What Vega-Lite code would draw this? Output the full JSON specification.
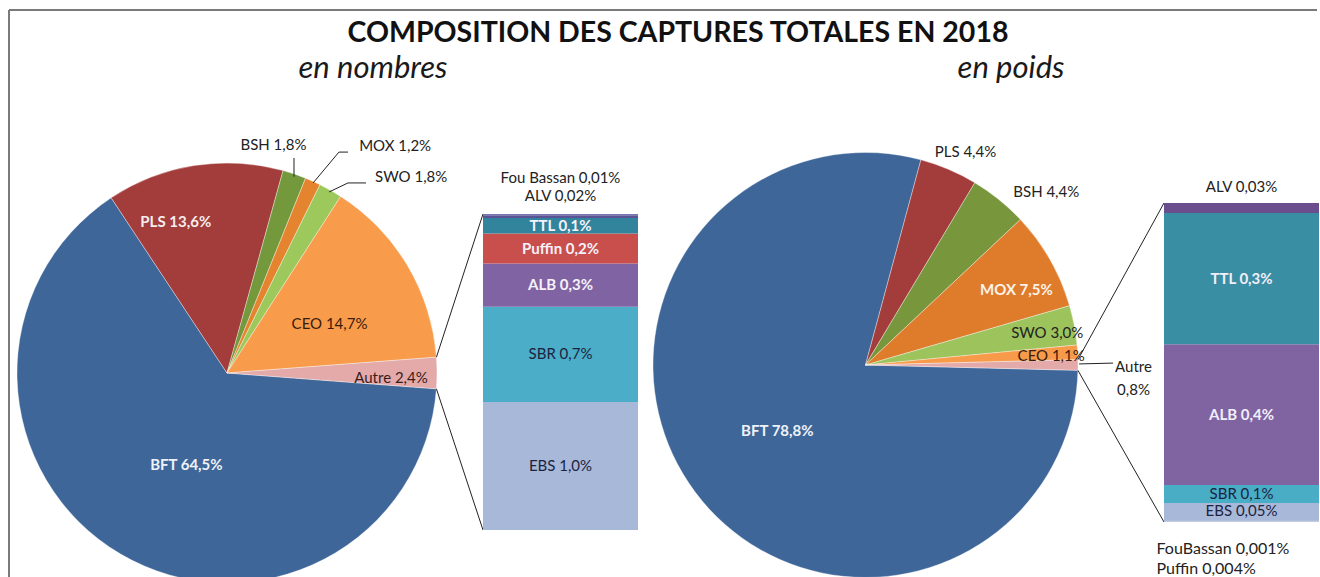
{
  "$schema": "https://vega.github.io/schema/vega-lite/v6.json",
  "padding": {"left": 7, "top": 9, "right": 0, "bottom": 0},
  "background": "#ffffff",
  "config": {"view": {"stroke": null}, "font": "Lato", "text": {"font": "Lato"}},
  "datasets": {
    "nombres": [
      {"sp": "BFT", "pct": 64.5, "i": 1, "label": "BFT 64,5%"},
      {"sp": "PLS", "pct": 13.6, "i": 2, "label": "PLS 13,6%"},
      {"sp": "BSH", "pct": 1.8, "i": 3, "label": "BSH 1,8%"},
      {"sp": "MOX", "pct": 1.2, "i": 4, "label": "MOX 1,2%"},
      {"sp": "SWO", "pct": 1.8, "i": 5, "label": "SWO 1,8%"},
      {"sp": "CEO", "pct": 14.7, "i": 6, "label": "CEO 14,7%"},
      {"sp": "Autre", "pct": 2.4, "i": 7, "label": "Autre 2,4%"}
    ],
    "poids": [
      {"sp": "BFT", "pct": 78.8, "i": 1, "label": "BFT 78,8%"},
      {"sp": "PLS", "pct": 4.4, "i": 2, "label": "PLS 4,4%"},
      {"sp": "BSH", "pct": 4.4, "i": 3, "label": "BSH 4,4%"},
      {"sp": "MOX", "pct": 7.5, "i": 4, "label": "MOX 7,5%"},
      {"sp": "SWO", "pct": 3.0, "i": 5, "label": "SWO 3,0%"},
      {"sp": "CEO", "pct": 1.1, "i": 6, "label": "CEO 1,1%"},
      {"sp": "Autre", "pct": 0.8, "i": 7, "label": "Autre\n0,8%"}
    ],
    "autreNombres": [
      {"sp": "EBS", "pct": 0.98, "i": 1, "label": "EBS 1,0%"},
      {"sp": "SBR", "pct": 0.73, "i": 2, "label": "SBR 0,7%"},
      {"sp": "ALB", "pct": 0.33, "i": 3, "label": "ALB 0,3%"},
      {"sp": "Puffin", "pct": 0.23, "i": 4, "label": "Puffin 0,2%"},
      {"sp": "TTL", "pct": 0.12, "i": 5, "label": "TTL 0,1%"},
      {"sp": "ALV", "pct": 0.02, "i": 6, "label": "ALV 0,02%"},
      {"sp": "Fou Bassan", "pct": 0.01, "i": 7, "label": "Fou Bassan  0,01%"}
    ],
    "autrePoids": [
      {"sp": "FouBassan", "pct": 0.001, "i": 1, "label": "FouBassan  0,001%"},
      {"sp": "Puffin", "pct": 0.004, "i": 2, "label": "Puffin 0,004%"},
      {"sp": "EBS", "pct": 0.043, "i": 3, "label": "EBS 0,05%"},
      {"sp": "SBR", "pct": 0.045, "i": 4, "label": "SBR 0,1%"},
      {"sp": "ALB", "pct": 0.354, "i": 5, "label": "ALB 0,4%"},
      {"sp": "TTL", "pct": 0.33, "i": 6, "label": "TTL 0,3%"},
      {"sp": "ALV", "pct": 0.025, "i": 7, "label": "ALV 0,03%"}
    ]
  },
  "bounds": "flush",
  "spacing": 0,
  "resolve": {"scale": {"color": "independent", "theta": "independent", "x": "independent", "y": "independent"}},
  "hconcat": [
    {
      "width": 420,
      "height": 420,
      "layer": [
        {
          "data": {"values": [{}]},
          "mark": {"type": "rule", "color": "#7a7a7a", "strokeWidth": 2},
          "encoding": {
            "x": {"datum": -1.0381, "type": "quantitative", "axis": null, "scale": {"domain": [-1, 1], "nice": false, "zero": false}},
            "y": {"datum": 1.72857, "type": "quantitative", "axis": null, "scale": {"domain": [-1, 1], "nice": false, "zero": false}},
            "x2": {"datum": 5.1905},
            "y2": {"datum": 1.72857}
          }
        },
        {
          "data": {"values": [{}]},
          "mark": {"type": "rule", "color": "#7a7a7a", "strokeWidth": 2},
          "encoding": {
            "x": {"datum": -1.0381, "type": "quantitative", "axis": null, "scale": {"domain": [-1, 1], "nice": false, "zero": false}},
            "y": {"datum": 1.72857, "type": "quantitative", "axis": null, "scale": {"domain": [-1, 1], "nice": false, "zero": false}},
            "x2": {"datum": -1.0381},
            "y2": {"datum": -0.99}
          }
        },
        {
          "data": {"name": "nombres"},
          "encoding": {
            "theta": {"field": "pct", "type": "quantitative", "stack": true, "scale": {"range": [1.6462, 7.9294]}},
            "order": {"field": "i", "type": "quantitative"},
            "detail": {"field": "sp", "type": "nominal"}
          },
          "layer": [
            {"mark": {"type": "arc", "outerRadius": 210, "stroke": "#ffffff", "strokeWidth": 0.6, "strokeOpacity": 0.6},
             "encoding": {"color": {"field": "sp", "type": "nominal", "legend": null,
               "scale": {"domain": ["BFT", "PLS", "BSH", "MOX", "SWO", "CEO", "Autre"], "range": ["#3e6699", "#a23d3b", "#74983c", "#e5842f", "#9dc85b", "#f89b4b", "#e3aaa9"]}}}},
            {"mark": {"type": "text", "radius": 100, "dx": 10, "dy": 6, "fontSize": 15, "fontWeight": "bold", "color": "#eef2f8"},
             "encoding": {"text": {"condition": {"test": "datum.sp === 'BFT'", "field": "label", "type": "nominal"}, "value": ""}}},
            {"mark": {"type": "text", "radius": 155, "dx": -27, "dy": 2, "fontSize": 15, "fontWeight": "bold", "color": "#f6ecec"},
             "encoding": {"text": {"condition": {"test": "datum.sp === 'PLS'", "field": "label", "type": "nominal"}, "value": ""}}},
            {"mark": {"type": "text", "radius": 117, "dx": 2, "dy": 11, "fontSize": 15, "color": "#3a1c0c"},
             "encoding": {"text": {"condition": {"test": "datum.sp === 'CEO'", "field": "label", "type": "nominal"}, "value": ""}}},
            {"mark": {"type": "text", "radius": 164, "dx": 0, "dy": 5, "fontSize": 15, "color": "#3a1c1c"},
             "encoding": {"text": {"condition": {"test": "datum.sp === 'Autre'", "field": "label", "type": "nominal"}, "value": ""}}},
            {"mark": {"type": "text", "radius": 232, "dx": -28, "dy": -8, "fontSize": 15, "color": "#222222"},
             "encoding": {"text": {"condition": {"test": "datum.sp === 'BSH'", "field": "label", "type": "nominal"}, "value": ""}}},
            {"mark": {"type": "text", "radius": 250, "dx": 66, "dy": 1, "fontSize": 15, "color": "#222222"},
             "encoding": {"text": {"condition": {"test": "datum.sp === 'MOX'", "field": "label", "type": "nominal"}, "value": ""}}},
            {"mark": {"type": "text", "radius": 250, "dx": 61, "dy": 22, "fontSize": 15, "color": "#222222"},
             "encoding": {"text": {"condition": {"test": "datum.sp === 'SWO'", "field": "label", "type": "nominal"}, "value": ""}}}
          ]
        },
        {
          "data": {"values": [{}]},
          "mark": {"type": "text", "text": "COMPOSITION DES CAPTURES TOTALES EN 2018", "font": "Lato", "fontSize": 28.5, "fontWeight": "bold", "color": "#111111", "baseline": "alphabetic", "align": "center"},
          "encoding": {
            "x": {"datum": 2.1476, "type": "quantitative", "axis": null, "scale": {"domain": [-1, 1], "nice": false, "zero": false}},
            "y": {"datum": 1.5762, "type": "quantitative", "axis": null, "scale": {"domain": [-1, 1], "nice": false, "zero": false}}
          }
        },
        {
          "data": {"values": [{}]},
          "mark": {"type": "text", "text": "en nombres", "font": "Lato", "fontSize": 31, "fontStyle": "italic", "color": "#1a1a1a", "baseline": "alphabetic", "align": "center"},
          "encoding": {
            "x": {"datum": 0.6952, "type": "quantitative", "axis": null, "scale": {"domain": [-1, 1], "nice": false, "zero": false}},
            "y": {"datum": 1.40476, "type": "quantitative", "axis": null, "scale": {"domain": [-1, 1], "nice": false, "zero": false}}
          }
        },
        {
          "data": {"values": [{}]},
          "mark": {"type": "rule", "color": "#222222", "strokeWidth": 1},
          "encoding": {
            "x": {"datum": 0.9972, "type": "quantitative", "axis": null, "scale": {"domain": [-1, 1], "nice": false, "zero": false}},
            "y": {"datum": 0.0753, "type": "quantitative", "axis": null, "scale": {"domain": [-1, 1], "nice": false, "zero": false}},
            "x2": {"datum": 1.21905},
            "y2": {"datum": 0.757}
          }
        },
        {
          "data": {"values": [{}]},
          "mark": {"type": "rule", "color": "#222222", "strokeWidth": 1},
          "encoding": {
            "x": {"datum": 0.9972, "type": "quantitative", "axis": null, "scale": {"domain": [-1, 1], "nice": false, "zero": false}},
            "y": {"datum": -0.0753, "type": "quantitative", "axis": null, "scale": {"domain": [-1, 1], "nice": false, "zero": false}},
            "x2": {"datum": 1.21905},
            "y2": {"datum": -0.7476}
          }
        },
        {
          "data": {"values": [{}]},
          "mark": {"type": "rule", "color": "#222222", "strokeWidth": 1},
          "encoding": {
            "x": {"datum": 0.319, "type": "quantitative", "axis": null, "scale": {"domain": [-1, 1], "nice": false, "zero": false}},
            "y": {"datum": 1.024, "type": "quantitative", "axis": null, "scale": {"domain": [-1, 1], "nice": false, "zero": false}},
            "x2": {"datum": 0.319},
            "y2": {"datum": 0.935}
          }
        },
        {
          "data": {"values": [{}]},
          "mark": {"type": "rule", "color": "#222222", "strokeWidth": 1},
          "encoding": {
            "x": {"datum": 0.410, "type": "quantitative", "axis": null, "scale": {"domain": [-1, 1], "nice": false, "zero": false}},
            "y": {"datum": 0.905, "type": "quantitative", "axis": null, "scale": {"domain": [-1, 1], "nice": false, "zero": false}},
            "x2": {"datum": 0.533},
            "y2": {"datum": 1.052}
          }
        },
        {
          "data": {"values": [{}]},
          "mark": {"type": "rule", "color": "#222222", "strokeWidth": 1},
          "encoding": {
            "x": {"datum": 0.533, "type": "quantitative", "axis": null, "scale": {"domain": [-1, 1], "nice": false, "zero": false}},
            "y": {"datum": 1.052, "type": "quantitative", "axis": null, "scale": {"domain": [-1, 1], "nice": false, "zero": false}},
            "x2": {"datum": 0.576},
            "y2": {"datum": 1.052}
          }
        },
        {
          "data": {"values": [{}]},
          "mark": {"type": "rule", "color": "#222222", "strokeWidth": 1},
          "encoding": {
            "x": {"datum": 0.486, "type": "quantitative", "axis": null, "scale": {"domain": [-1, 1], "nice": false, "zero": false}},
            "y": {"datum": 0.862, "type": "quantitative", "axis": null, "scale": {"domain": [-1, 1], "nice": false, "zero": false}},
            "x2": {"datum": 0.576},
            "y2": {"datum": 0.905}
          }
        },
        {
          "data": {"values": [{}]},
          "mark": {"type": "rule", "color": "#222222", "strokeWidth": 1},
          "encoding": {
            "x": {"datum": 0.576, "type": "quantitative", "axis": null, "scale": {"domain": [-1, 1], "nice": false, "zero": false}},
            "y": {"datum": 0.905, "type": "quantitative", "axis": null, "scale": {"domain": [-1, 1], "nice": false, "zero": false}},
            "x2": {"datum": 0.662},
            "y2": {"datum": 0.905}
          }
        }
      ]
    },
    {
      "width": 216,
      "height": 420,
      "data": {"name": "autreNombres"},
      "encoding": {
        "x": {"datum": "Autre", "type": "nominal", "axis": null, "scale": {"paddingInner": 0, "paddingOuter": 0.19677, "align": 0.7541}},
        "y": {"field": "pct", "type": "quantitative", "stack": "zero", "axis": null, "scale": {"domain": [-0.40588, 2.81057], "nice": false, "zero": false}},
        "order": {"field": "i", "type": "quantitative"},
        "detail": {"field": "sp", "type": "nominal"}
      },
      "layer": [
        {"mark": {"type": "bar"},
         "encoding": {"color": {"field": "sp", "type": "nominal", "legend": null,
           "scale": {"domain": ["EBS", "SBR", "ALB", "Puffin", "TTL", "ALV", "Fou Bassan"], "range": ["#a8b8d9", "#4badc7", "#7f63a2", "#c94f4c", "#31849c", "#5a5496", "#7a74b0"]}}}},
        {"mark": {"type": "text", "fontSize": 15, "fontWeight": "bold", "color": "#f6f2fa"},
         "encoding": {
           "y": {"field": "pct", "type": "quantitative", "stack": "zero", "bandPosition": 0.5},
           "text": {"condition": {"test": "indexof(['TTL','Puffin','ALB'], datum.sp) >= 0", "field": "label", "type": "nominal"}, "value": ""}}},
        {"mark": {"type": "text", "fontSize": 15, "color": "#1c2340"},
         "encoding": {
           "y": {"field": "pct", "type": "quantitative", "stack": "zero", "bandPosition": 0.5},
           "text": {"condition": {"test": "indexof(['SBR','EBS'], datum.sp) >= 0", "field": "label", "type": "nominal"}, "value": ""}}},
        {"mark": {"type": "text", "fontSize": 15, "color": "#222222", "dy": -21},
         "encoding": {
           "y": {"field": "pct", "type": "quantitative", "stack": "zero", "bandPosition": 0.5},
           "text": {"condition": {"test": "datum.sp === 'ALV'", "field": "label", "type": "nominal"}, "value": ""}}},
        {"mark": {"type": "text", "fontSize": 15, "color": "#222222", "dy": -37},
         "encoding": {
           "y": {"field": "pct", "type": "quantitative", "stack": "zero", "bandPosition": 0.5},
           "text": {"condition": {"test": "datum.sp === 'Fou Bassan'", "field": "label", "type": "nominal"}, "value": ""}}}
      ]
    },
    {
      "width": 425,
      "height": 404,
      "layer": [
        {
          "data": {"name": "poids"},
          "encoding": {
            "theta": {"field": "pct", "type": "quantitative", "stack": true, "scale": {"range": [1.5959, 7.8791]}},
            "order": {"field": "i", "type": "quantitative"},
            "detail": {"field": "sp", "type": "nominal"}
          },
          "layer": [
            {"mark": {"type": "arc", "outerRadius": 212.5, "stroke": "#ffffff", "strokeWidth": 0.6, "strokeOpacity": 0.6},
             "encoding": {"color": {"field": "sp", "type": "nominal", "legend": null,
               "scale": {"domain": ["BFT", "PLS", "BSH", "MOX", "SWO", "CEO", "Autre"], "range": ["#3e6699", "#a23d3b", "#78963c", "#df7c2c", "#9cc35c", "#f79b4b", "#e3aaa9"]}}}},
            {"mark": {"type": "text", "radius": 110, "dx": 0, "dy": 0, "fontSize": 15, "fontWeight": "bold", "color": "#eef2f8"},
             "encoding": {"text": {"condition": {"test": "datum.sp === 'BFT'", "field": "label", "type": "nominal"}, "value": ""}}},
            {"mark": {"type": "text", "radius": 235, "dx": 8, "dy": 3, "fontSize": 15, "color": "#222222"},
             "encoding": {"text": {"condition": {"test": "datum.sp === 'PLS'", "field": "label", "type": "nominal"}, "value": ""}}},
            {"mark": {"type": "text", "radius": 245, "dx": 27, "dy": 18, "fontSize": 15, "color": "#222222"},
             "encoding": {"text": {"condition": {"test": "datum.sp === 'BSH'", "field": "label", "type": "nominal"}, "value": ""}}},
            {"mark": {"type": "text", "radius": 168, "dx": 5, "dy": 8, "fontSize": 15, "fontWeight": "bold", "color": "#fbf3ea"},
             "encoding": {"text": {"condition": {"test": "datum.sp === 'MOX'", "field": "label", "type": "nominal"}, "value": ""}}},
            {"mark": {"type": "text", "radius": 185, "dx": 0, "dy": 3, "fontSize": 15, "color": "#222222"},
             "encoding": {"text": {"condition": {"test": "datum.sp === 'SWO'", "field": "label", "type": "nominal"}, "value": ""}}},
            {"mark": {"type": "text", "radius": 186, "dx": 0, "dy": 2, "fontSize": 15, "color": "#3a1c0c"},
             "encoding": {"text": {"condition": {"test": "datum.sp === 'CEO'", "field": "label", "type": "nominal"}, "value": ""}}},
            {"mark": {"type": "text", "radius": 268, "dx": 0, "dy": 2, "fontSize": 15, "color": "#222222", "lineBreak": "\n", "lineHeight": 23},
             "encoding": {"text": {"condition": {"test": "datum.sp === 'Autre'", "field": "label", "type": "nominal"}, "value": ""}}}
          ]
        },
        {
          "data": {"values": [{}]},
          "mark": {"type": "text", "text": "en poids", "font": "Lato", "fontSize": 31, "fontStyle": "italic", "color": "#1a1a1a", "baseline": "alphabetic", "align": "center"},
          "encoding": {
            "x": {"datum": 0.6847, "type": "quantitative", "axis": null, "scale": {"domain": [-1, 1], "nice": false, "zero": false}},
            "y": {"datum": 1.35059, "type": "quantitative", "axis": null, "scale": {"domain": [-0.95059, 0.95059], "nice": false, "zero": false}}
          }
        },
        {
          "data": {"values": [{}]},
          "mark": {"type": "rule", "color": "#222222", "strokeWidth": 1},
          "encoding": {
            "x": {"datum": 0.9997, "type": "quantitative", "axis": null, "scale": {"domain": [-1, 1], "nice": false, "zero": false}},
            "y": {"datum": 0.0251, "type": "quantitative", "axis": null, "scale": {"domain": [-0.95059, 0.95059], "nice": false, "zero": false}},
            "x2": {"datum": 1.40471},
            "y2": {"datum": 0.76235}
          }
        },
        {
          "data": {"values": [{}]},
          "mark": {"type": "rule", "color": "#222222", "strokeWidth": 1},
          "encoding": {
            "x": {"datum": 0.9997, "type": "quantitative", "axis": null, "scale": {"domain": [-1, 1], "nice": false, "zero": false}},
            "y": {"datum": -0.0251, "type": "quantitative", "axis": null, "scale": {"domain": [-0.95059, 0.95059], "nice": false, "zero": false}},
            "x2": {"datum": 1.40471},
            "y2": {"datum": -0.73882}
          }
        },
        {
          "data": {"values": [{}]},
          "mark": {"type": "rule", "color": "#222222", "strokeWidth": 1},
          "encoding": {
            "x": {"datum": 1.005, "type": "quantitative", "axis": null, "scale": {"domain": [-1, 1], "nice": false, "zero": false}},
            "y": {"datum": 0.005, "type": "quantitative", "axis": null, "scale": {"domain": [-0.95059, 0.95059], "nice": false, "zero": false}},
            "x2": {"datum": 1.165},
            "y2": {"datum": 0.009}
          }
        }
      ]
    },
    {
      "width": 241,
      "height": 404,
      "data": {"name": "autrePoids"},
      "encoding": {
        "x": {"datum": "Autre", "type": "nominal", "axis": null, "scale": {"paddingInner": 0, "paddingOuter": 0.27742, "align": 1}},
        "y": {"field": "pct", "type": "quantitative", "stack": "zero", "axis": null, "scale": {"domain": [-0.11313, 0.90256], "nice": false, "zero": false}},
        "order": {"field": "i", "type": "quantitative"},
        "detail": {"field": "sp", "type": "nominal"}
      },
      "layer": [
        {"mark": {"type": "bar"},
         "encoding": {"color": {"field": "sp", "type": "nominal", "legend": null,
           "scale": {"domain": ["FouBassan", "Puffin", "EBS", "SBR", "ALB", "TTL", "ALV"], "range": ["#b0bedc", "#b0bedc", "#a8b8d9", "#49adc6", "#8064a2", "#3a8ea3", "#6a4e8e"]}}}},
        {"mark": {"type": "text", "fontSize": 15, "fontWeight": "bold", "color": "#f2eefa"},
         "encoding": {
           "y": {"field": "pct", "type": "quantitative", "stack": "zero", "bandPosition": 0.5},
           "text": {"condition": {"test": "indexof(['TTL','ALB'], datum.sp) >= 0", "field": "label", "type": "nominal"}, "value": ""}}},
        {"mark": {"type": "text", "fontSize": 15, "color": "#1c2340"},
         "encoding": {
           "y": {"field": "pct", "type": "quantitative", "stack": "zero", "bandPosition": 0.5},
           "text": {"condition": {"test": "indexof(['SBR','EBS'], datum.sp) >= 0", "field": "label", "type": "nominal"}, "value": ""}}},
        {"mark": {"type": "text", "fontSize": 15, "color": "#222222", "dy": -21},
         "encoding": {
           "y": {"field": "pct", "type": "quantitative", "stack": "zero", "bandPosition": 0.5},
           "text": {"condition": {"test": "datum.sp === 'ALV'", "field": "label", "type": "nominal"}, "value": ""}}},
        {"mark": {"type": "text", "fontSize": 16, "color": "#222222", "align": "left", "dx": -85, "dy": 27},
         "encoding": {
           "y": {"field": "pct", "type": "quantitative", "stack": "zero", "bandPosition": 0.5},
           "text": {"condition": {"test": "datum.sp === 'FouBassan'", "field": "label", "type": "nominal"}, "value": ""}}},
        {"mark": {"type": "text", "fontSize": 16, "color": "#222222", "align": "left", "dx": -85, "dy": 48},
         "encoding": {
           "y": {"field": "pct", "type": "quantitative", "stack": "zero", "bandPosition": 0.5},
           "text": {"condition": {"test": "datum.sp === 'Puffin'", "field": "label", "type": "nominal"}, "value": ""}}}
      ]
    }
  ]
}
